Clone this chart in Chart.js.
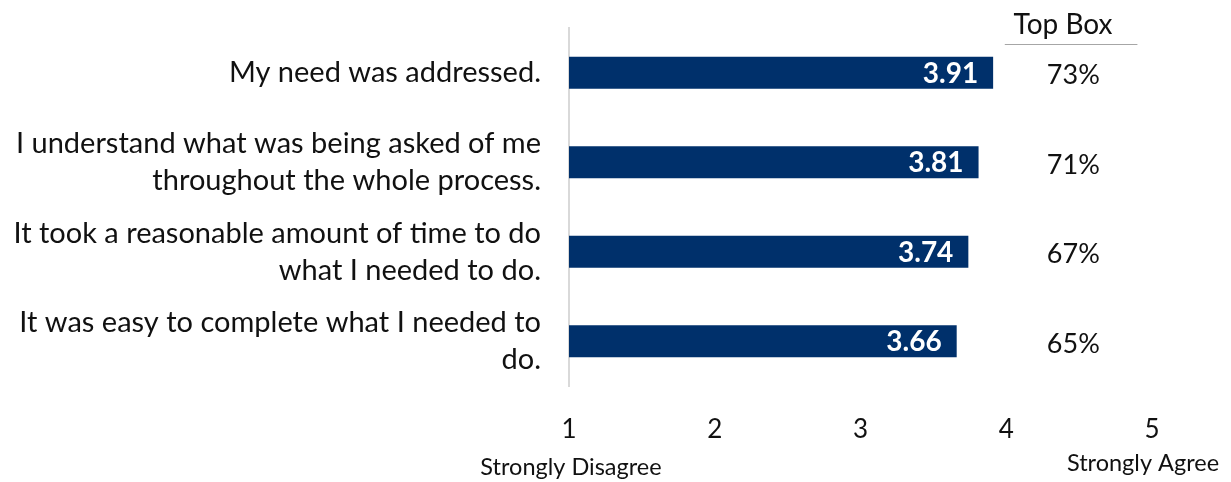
<!DOCTYPE html>
<html>
<head>
<meta charset="utf-8">
<script src="https://cdn.jsdelivr.net/npm/chart.js@4.4.1/dist/chart.umd.min.js"></script>
<style>
  html, body { margin: 0; padding: 0; background: #fff; }
  #wrap { width: 1231px; height: 482px; position: relative; }
</style>
</head>
<body>
<div id="wrap"><canvas id="surveyChart"></canvas></div>
<script>
// survey statements and their mean scores (1-5 scale)
var statements = [
    'My need was addressed.',
    ['I understand what was being asked of me', 'throughout the whole process.'],
    ['It took a reasonable amount of time to do', 'what I needed to do.'],
    ['It was easy to complete what I needed to', 'do.']
];
var meanScores = [3.91, 3.81, 3.74, 3.66];
var topBox = ['73%', '71%', '67%', '65%'];
var scaleTicks = [1, 2, 3, 4, 5];
var scaleEnds = ['Strongly Disagree', 'Strongly Agree'];

var FONT = 'Lato, "Open Sans", sans-serif';
var NAVY = '#00306b';

// extra text: values inside bars, top box column, end labels
var annotations = {
    id: 'annotations',
    afterDatasetsDraw: function(chart) {
        var ctx = chart.ctx;
        var xs = chart.scales.x;
        var meta = chart.getDatasetMeta(0);
        ctx.save();
        ctx.textBaseline = 'middle';

        meta.data.forEach(function(bar, i) {
            ctx.font = 'bold 28px ' + FONT;
            ctx.fillStyle = '#fff';
            ctx.textAlign = 'right';
            ctx.fillText(meanScores[i].toFixed(2), bar.x - 15, bar.y + 1);

            ctx.font = '27px ' + FONT;
            ctx.fillStyle = '#111';
            ctx.textAlign = 'center';
            ctx.fillText(topBox[i], xs.getPixelForValue(4.46), bar.y + 3);
        });

        // Top Box header and rule
        var cx = xs.getPixelForValue(4.39);
        ctx.font = '28px ' + FONT;
        ctx.fillStyle = '#111';
        ctx.textAlign = 'center';
        ctx.fillText('Top Box', cx, 25);
        ctx.strokeStyle = '#a6a6a6';
        ctx.lineWidth = 1;
        ctx.beginPath();
        ctx.moveTo(xs.getPixelForValue(3.99), 44.5);
        ctx.lineTo(xs.getPixelForValue(4.9), 44.5);
        ctx.stroke();

        // scale end labels
        ctx.font = '23.5px ' + FONT;
        ctx.fillText(scaleEnds[0], xs.getPixelForValue(scaleTicks[0]) + 2, 467);
        ctx.fillText(scaleEnds[1], xs.getPixelForValue(scaleTicks[4]) - 9, 463);
        ctx.restore();
    }
};

(function initSurveyChart(retry) {
    retry = retry || 0;
    var canvas = document.getElementById('surveyChart');
    if (window.Chart && canvas) {
        new Chart(canvas.getContext('2d'), {
            type: 'bar',
            data: {
                labels: statements,
                datasets: [{
                    data: meanScores,
                    backgroundColor: NAVY,
                    borderWidth: 0,
                    barPercentage: 0.36,
                    categoryPercentage: 1
                }]
            },
            options: {
                indexAxis: 'y',
                responsive: true,
                maintainAspectRatio: false,
                animation: false,
                plugins: {
                    legend: { display: false },
                    tooltip: { enabled: false }
                },
                layout: {
                    padding: { left: 0, right: 79, top: 28, bottom: 0 }
                },
                scales: {
                    x: {
                        min: 1,
                        max: 5,
                        afterBuildTicks: function(axis) {
                            axis.ticks = scaleTicks.map(function(v) { return { value: v }; });
                        },
                        grid: { display: false, drawTicks: false },
                        border: { display: false },
                        ticks: {
                            color: '#111',
                            font: { family: FONT, size: 26 },
                            padding: 28
                        },
                        afterFit: function(axis) { axis.height = 96; }
                    },
                    y: {
                        grid: { display: false, drawTicks: false },
                        border: { display: true, color: '#d9d9d9', width: 2 },
                        ticks: {
                            color: '#111',
                            font: { family: FONT, size: 29, lineHeight: 1.28 },
                            padding: 28
                        },
                        afterFit: function(axis) {
                            axis.width = 569;
                            axis.paddingTop = 0;
                            axis.paddingBottom = 0;
                        }
                    }
                }
            },
            plugins: [annotations]
        });
    } else if (retry < 20) {
        setTimeout(function() { initSurveyChart(retry + 1); }, 100);
    }
})();
</script>
</body>
</html>
